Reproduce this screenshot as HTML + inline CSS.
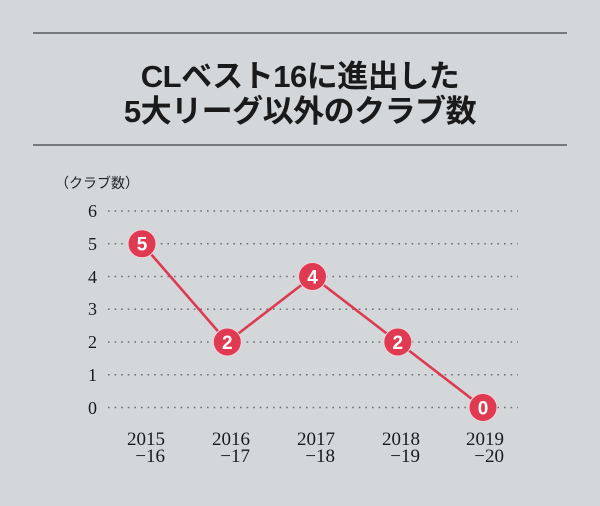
<!DOCTYPE html>
<html><head><meta charset="utf-8"><style>
html,body{margin:0;padding:0;background:#d3d7da;}
svg{display:block;}
</style></head><body>
<svg width="600" height="506" viewBox="0 0 600 506" xmlns="http://www.w3.org/2000/svg">
<rect width="600" height="506" fill="#d3d7da"/>
<line x1="33" y1="33" x2="567" y2="33" stroke="#555a5e" stroke-width="1.6"/>
<line x1="33" y1="145" x2="567" y2="145" stroke="#555a5e" stroke-width="1.6"/>
<g font-family="'Liberation Sans','Noto Sans CJK JP',sans-serif" font-weight="700" font-size="31" fill="#1a1a1a" text-anchor="middle" letter-spacing="-0.5">
<text x="300" y="87">CLベスト16に進出した</text>
<text x="300" y="122">5大リーグ以外のクラブ数</text>
</g>
<text x="55" y="188" font-family="'Liberation Sans','Noto Sans CJK JP',sans-serif" font-size="14" fill="#222">（クラブ数）</text>
<g stroke="#6d7175" stroke-width="1.6" stroke-dasharray="1.6 5" stroke-linecap="butt">
<line x1="108" y1="211" x2="518" y2="211"/>
<line x1="108" y1="243.75" x2="518" y2="243.75"/>
<line x1="108" y1="276.5" x2="518" y2="276.5"/>
<line x1="108" y1="309.25" x2="518" y2="309.25"/>
<line x1="108" y1="342" x2="518" y2="342"/>
<line x1="108" y1="374.75" x2="518" y2="374.75"/>
<line x1="108" y1="407.5" x2="518" y2="407.5"/>
</g>
<g font-family="'Liberation Serif',serif" font-size="18" fill="#1a1a1a" text-anchor="end">
<text x="97" y="217">6</text>
<text x="97" y="250">5</text>
<text x="97" y="283">4</text>
<text x="97" y="315">3</text>
<text x="97" y="348">2</text>
<text x="97" y="381">1</text>
<text x="97" y="414">0</text>
</g>
<polyline points="142,243.75 227.3,342 312.5,276.5 397.8,342 483,407.5" fill="none" stroke="#dd3a50" stroke-width="2.6" stroke-linejoin="miter"/>
<g fill="#df3a51" stroke="#f1d6da" stroke-width="1">
<circle cx="142" cy="243.75" r="14"/>
<circle cx="227.3" cy="342" r="14"/>
<circle cx="312.5" cy="276.5" r="14"/>
<circle cx="397.8" cy="342" r="14"/>
<circle cx="483" cy="407.5" r="14"/>
</g>
<g font-family="'Liberation Sans',sans-serif" font-weight="700" font-size="19" fill="#ffffff" text-anchor="middle">
<text x="142" y="250.5">5</text>
<text x="227.3" y="349">2</text>
<text x="312.5" y="283.5">4</text>
<text x="397.8" y="349">2</text>
<text x="483" y="414.5">0</text>
</g>
<g font-family="'Liberation Serif',serif" font-size="19" fill="#1a1a1a" text-anchor="end">
<text x="165" y="445">2015</text><text x="165" y="462">−16</text>
<text x="250" y="445">2016</text><text x="250" y="462">−17</text>
<text x="335" y="445">2017</text><text x="335" y="462">−18</text>
<text x="420" y="445">2018</text><text x="420" y="462">−19</text>
<text x="504" y="445">2019</text><text x="504" y="462">−20</text>
</g>
</svg>
</body></html>
